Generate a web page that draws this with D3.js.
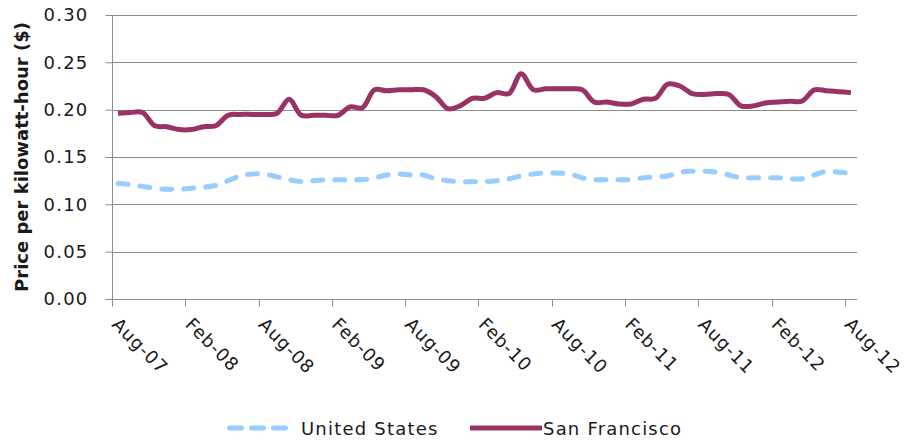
<!DOCTYPE html>
<html>
<head>
<meta charset="utf-8">
<script src="https://cdn.jsdelivr.net/npm/d3@7"></script>
<style>
  html, body { margin: 0; padding: 0; background: #fff; }
  svg { display: block; }
  text { font-family: "DejaVu Sans", Verdana, sans-serif; fill: #1a1a1a; }
</style>
</head>
<body>
<svg id="chart" width="906" height="442"></svg>
<script>
// ---- Data (monthly, Aug-07 .. Aug-12) ----
const startYear = 2007, startMonth = 7; // August (0-based)
const usPrice = [
  0.122, 0.121, 0.119, 0.117, 0.116, 0.116, 0.117, 0.118, 0.120, 0.125,
  0.130, 0.132, 0.132, 0.129, 0.126, 0.124, 0.125, 0.126, 0.126, 0.126,
  0.126, 0.128, 0.131, 0.132, 0.131, 0.131, 0.127, 0.125, 0.124, 0.124,
  0.124, 0.125, 0.127, 0.130, 0.132, 0.133, 0.133, 0.132, 0.128, 0.126,
  0.126, 0.126, 0.126, 0.128, 0.129, 0.130, 0.134, 0.135, 0.135, 0.134,
  0.131, 0.128, 0.128, 0.128, 0.128, 0.127, 0.127, 0.131, 0.135, 0.134,
  0.133
];
const sfPrice = [
  0.196, 0.197, 0.197, 0.183, 0.182, 0.179, 0.179, 0.182, 0.183, 0.194,
  0.195, 0.195, 0.195, 0.196, 0.211, 0.194, 0.194, 0.194, 0.194, 0.203,
  0.202, 0.221, 0.220, 0.221, 0.221, 0.221, 0.214, 0.201, 0.204, 0.212,
  0.212, 0.218, 0.217, 0.238, 0.221, 0.222, 0.222, 0.222, 0.221, 0.208,
  0.208, 0.206, 0.206, 0.211, 0.212, 0.227, 0.225, 0.217, 0.216, 0.217,
  0.216, 0.204, 0.204, 0.207, 0.208, 0.209, 0.209, 0.221, 0.220, 0.219,
  0.218
];
const seriesNames = ["United States", "San Francisco"];
const yTicks = [0.00, 0.05, 0.10, 0.15, 0.20, 0.25, 0.30];
const monthNames = ["Jan","Feb","Mar","Apr","May","Jun","Jul","Aug","Sep","Oct","Nov","Dec"];
const categories = usPrice.map((_, i) => {
  const m = (startMonth + i) % 12;
  const yr = startYear + Math.floor((startMonth + i) / 12);
  return monthNames[m] + "-" + String(yr % 100).padStart(2, "0");
});
const tickEvery = 6;

// ---- Layout ----
const svg = d3.select("#chart");
const pLeft = 112, pRight = 857, pTop = 15, pBottom = 299;

const x = d3.scaleBand().domain(categories).range([pLeft, pRight]).paddingInner(0).paddingOuter(0);
const y = d3.scaleLinear().domain([0, 0.30]).range([pBottom, pTop]);
const cx = c => x(c) + x.bandwidth() / 2;

const gridColor = "#8c8c8c";

// gridlines
svg.append("g").selectAll("line")
  .data(yTicks.filter(t => t > 0))
  .join("line")
  .attr("x1", pLeft).attr("x2", pRight)
  .attr("y1", d => Math.round(y(d)) + 0.5).attr("y2", d => Math.round(y(d)) + 0.5)
  .attr("stroke", gridColor).attr("stroke-width", 1);

// y axis
const yAxis = d3.axisLeft(y).tickValues(yTicks).tickFormat(d3.format(".2f")).tickSize(7).tickPadding(17);
const gy = svg.append("g").attr("transform", `translate(${pLeft + 0.5},0)`).call(yAxis);
gy.select(".domain").attr("stroke", gridColor).attr("d", `M0,${pTop}V${pBottom}`);
gy.selectAll(".tick line").attr("stroke", gridColor);
gy.selectAll(".tick text").attr("font-size", 18).attr("font-family", "DejaVu Sans")
  .attr("letter-spacing", 1.2).attr("fill", "#1a1a1a");

// x axis
const tickCats = categories.filter((_, i) => i % tickEvery === 0);
const gx = svg.append("g").attr("transform", `translate(0,${pBottom + 0.5})`);
gx.append("line").attr("x1", pLeft).attr("x2", pRight).attr("y1", 0).attr("y2", 0).attr("stroke", gridColor);
gx.selectAll("line.tk").data(tickCats).join("line").attr("class", "tk")
  .attr("x1", d => Math.round(x(d)) + 0.5).attr("x2", d => Math.round(x(d)) + 0.5)
  .attr("y1", 0).attr("y2", 7).attr("stroke", gridColor);
gx.selectAll("text.lbl").data(tickCats).join("text").attr("class", "lbl")
  .attr("transform", d => `translate(${x(d) - 1},${26}) rotate(45)`)
  .attr("font-size", 18)
  .attr("letter-spacing", 0.9)
  .attr("text-anchor", "start")
  .text(d => d);

// y axis title
svg.append("text")
  .attr("transform", `translate(28,${(pTop + pBottom) / 2}) rotate(-90)`)
  .attr("text-anchor", "middle")
  .attr("font-size", 18).attr("font-weight", "bold")
  .text("Price per kilowatt-hour ($)");

// lines
const line = d3.line().x((d, i) => cx(categories[i])).y(d => y(d)).curve(d3.curveCatmullRom.alpha(0.5));
svg.append("path").datum(usPrice).attr("d", line)
  .attr("fill", "none").attr("stroke", "#99ccff").attr("stroke-width", 5)
  .attr("stroke-dasharray", "10,12").attr("stroke-linecap", "round");
svg.append("path").datum(sfPrice).attr("d", line)
  .attr("fill", "none").attr("stroke", "#993366").attr("stroke-width", 5)
  .attr("stroke-linejoin", "round");

// legend
const lg = svg.append("g");
lg.append("line").attr("x1", 229.5).attr("x2", 285.5).attr("y1", 428).attr("y2", 428)
  .attr("stroke", "#99ccff").attr("stroke-width", 5).attr("stroke-dasharray", "12,10").attr("stroke-linecap", "round");
lg.append("text").attr("x", 301).attr("y", 435).attr("font-size", 18).attr("letter-spacing", 1.2).text(seriesNames[0]);
lg.append("line").attr("x1", 470).attr("x2", 542).attr("y1", 428).attr("y2", 428)
  .attr("stroke", "#993366").attr("stroke-width", 5);
lg.append("text").attr("x", 543).attr("y", 435).attr("font-size", 18).attr("letter-spacing", 1.2).text(seriesNames[1]);
</script>
</body>
</html>
